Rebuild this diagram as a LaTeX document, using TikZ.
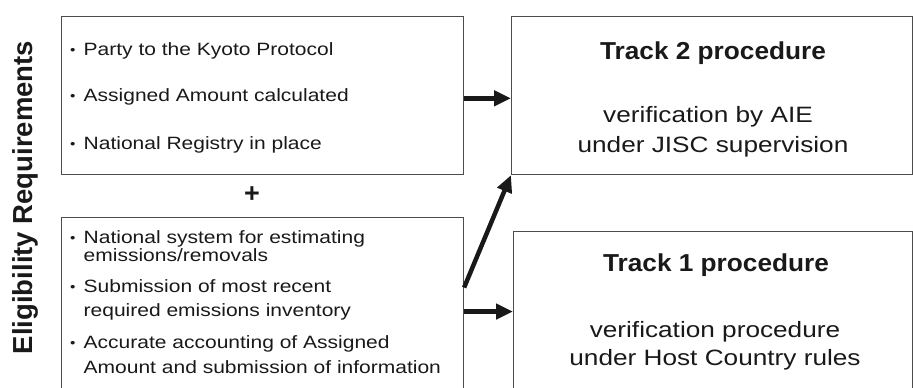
\documentclass[tikz,border=0pt]{standalone}
\usepackage{fontspec}
\setmainfont{Liberation Sans}
\newfontfamily\regf[FakeStretch=1.18]{Liberation Sans}
\newfontfamily\titf[FakeStretch=1.07]{Liberation Sans}
\usetikzlibrary{arrows.meta}
\newcommand{\bdot}{\makebox[13.5pt][l]{\raisebox{0.5pt}{\fontsize{13}{13}\selectfont •}}}
\begin{document}
\begin{tikzpicture}[x=1pt,y=-1pt,
  box/.style={draw=black!70, line width=1.1pt, inner sep=0pt, anchor=north west},
  bul/.style={anchor=base west, inner sep=0pt, text=black!90, font=\regf\fontsize{17.8}{20}\selectfont},
  trk/.style={anchor=base, inner sep=0pt, text=black!90, font=\regf\fontsize{22.2}{24}\selectfont},
  ttl/.style={anchor=base, inner sep=0pt, text=black!90, font=\titf\bfseries\fontsize{24.5}{26}\selectfont},
  arr/.style={line width=4.5pt, black!90, -{Triangle[length=17pt,width=15pt]}}
]
\useasboundingbox (0,0) rectangle (913,388);
% boxes
\node[box, minimum width=402.5pt, minimum height=158.5pt] (elig1) at (60.5,15.5) {};
\node[box, minimum width=402.5pt, minimum height=175pt] (elig2) at (60.5,216.5) {};
\node[box, minimum width=401pt, minimum height=158.5pt] (t2) at (511,15.5) {};
\node[box, minimum width=399pt, minimum height=160pt] (t1) at (513,231) {};
% label
\node[rotate=90, inner sep=0pt, text=black!90, font=\bfseries\fontsize{27.5}{30}\selectfont] (lab) at (25,197.5) {Eligibility Requirements};
% first box
\node[bul] (a1) at (70,55) {\bdot Party to the Kyoto Protocol};
\node[bul] (a2) at (70,101) {\bdot Assigned Amount calculated};
\node[bul] (a3) at (70,149) {\bdot National Registry in place};
% plus
\node[inner sep=0pt, text=black!90, font=\bfseries\fontsize{27}{27}\selectfont] (plus) at (252,195) {+};
% second box
\node[bul] (b1) at (70,243) {\bdot National system for estimating};
\node[bul] (b1c) at (83.5,261) {emissions/removals};
\node[bul] (b2) at (70,292) {\bdot Submission of most recent};
\node[bul] (b2c) at (83.5,316) {required emissions inventory};
\node[bul] (b3) at (70,348) {\bdot Accurate accounting of Assigned};
\node[bul] (b3c) at (83.5,373) {Amount and submission of information};
% track 2
\node[ttl] (t2h) at (713,59) {Track 2 procedure};
\node[trk] (t2a) at (708,122) {verification by AIE};
\node[trk] (t2b) at (713,152) {under JISC supervision};
% track 1
\node[ttl] (t1h) at (716,271) {Track 1 procedure};
\node[trk] (t1a) at (715,337) {verification procedure};
\node[trk] (t1b) at (715,365) {under Host Country rules};
% arrows
\draw[arr] ([yshift=-3pt]elig1.east) -- ([yshift=-3pt]t2.west);
\draw[arr] (elig2.east |- t1.west) -- (t1.west);
\draw[arr] ([yshift=17pt]elig2.east) -- (t2.south west);
\end{tikzpicture}
\end{document}
